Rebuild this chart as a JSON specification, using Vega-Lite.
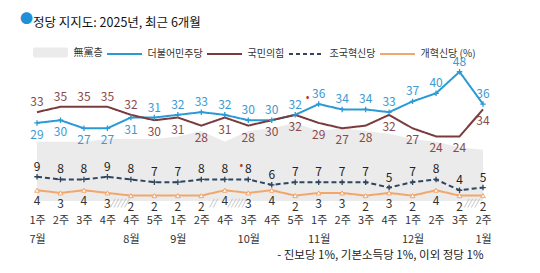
{
  "$schema": "https://vega.github.io/schema/vega-lite/v6.json",
  "width": 446,
  "height": 140,
  "autosize": {"type": "none"},
  "padding": {"left": 37, "top": 61, "right": 57, "bottom": 72},
  "background": "white",
  "config": {"view": {"stroke": null}, "font": "Noto Sans CJK KR"},
  "title": {"text": "●", "color": "#1f8fd8", "fontSize": 13, "anchor": "start", "frame": "group", "dx": -17, "offset": -9, "fontWeight": "normal"},
  "data": {"values": [
    {"key": "7월 1주", "無黨층": 22, "더불어민주당": 29, "국민의힘": 33, "조국혁신당": 9, "개혁신당": 4},
    {"key": "7월 2주", "無黨층": 22, "더불어민주당": 30, "국민의힘": 35, "조국혁신당": 8, "개혁신당": 3},
    {"key": "7월 3주", "無黨층": 22, "더불어민주당": 27, "국민의힘": 35, "조국혁신당": 8, "개혁신당": 4},
    {"key": "7월 4주", "無黨층": 23, "더불어민주당": 27, "국민의힘": 35, "조국혁신당": 9, "개혁신당": 3, "hatch": "/////"},
    {"key": "8월 4주", "無黨층": 23, "더불어민주당": 31, "국민의힘": 32, "조국혁신당": 8, "개혁신당": 2},
    {"key": "8월 5주", "無黨층": 23, "더불어민주당": 31, "국민의힘": 30, "조국혁신당": 7, "개혁신당": 2},
    {"key": "9월 1주", "無黨층": 24, "더불어민주당": 32, "국민의힘": 31, "조국혁신당": 7, "개혁신당": 2},
    {"key": "9월 2주", "無黨층": 26, "더불어민주당": 33, "국민의힘": 28, "조국혁신당": 8, "개혁신당": 2, "hatch": "//"},
    {"key": "9월 4주", "無黨층": 22, "더불어민주당": 32, "국민의힘": 31, "조국혁신당": 8, "개혁신당": 4, "hatch": "/////"},
    {"key": "10월 3주", "無黨층": 26, "더불어민주당": 30, "국민의힘": 28, "조국혁신당": 8, "개혁신당": 3, "note2": "•"},
    {"key": "10월 4주", "無黨층": 27, "더불어민주당": 30, "국민의힘": 30, "조국혁신당": 6, "개혁신당": 4},
    {"key": "10월 5주", "無黨층": 29, "더불어민주당": 32, "국민의힘": 32, "조국혁신당": 7, "개혁신당": 2},
    {"key": "11월 1주", "無黨층": 26, "더불어민주당": 36, "국민의힘": 29, "조국혁신당": 7, "개혁신당": 3, "note1": "•"},
    {"key": "11월 2주", "無黨층": 27, "더불어민주당": 34, "국민의힘": 27, "조국혁신당": 7, "개혁신당": 3},
    {"key": "11월 3주", "無黨층": 26, "더불어민주당": 34, "국민의힘": 28, "조국혁신당": 7, "개혁신당": 2},
    {"key": "11월 4주", "無黨층": 25, "더불어민주당": 33, "국민의힘": 32, "조국혁신당": 5, "개혁신당": 3},
    {"key": "12월 1주", "無黨층": 23, "더불어민주당": 37, "국민의힘": 27, "조국혁신당": 7, "개혁신당": 2},
    {"key": "12월 2주", "無黨층": 22, "더불어민주당": 40, "국민의힘": 24, "조국혁신당": 8, "개혁신당": 4},
    {"key": "12월 3주", "無黨층": 20, "더불어민주당": 48, "국민의힘": 24, "조국혁신당": 4, "개혁신당": 2, "hatch": "////"},
    {"key": "1월 2주", "無黨층": 19, "더불어민주당": 36, "국민의힘": 34, "조국혁신당": 5, "개혁신당": 2}
  ]},
  "transform": [{"fold": ["無黨층", "더불어민주당", "국민의힘", "조국혁신당", "개혁신당"], "as": ["party", "v"]}],
  "encoding": {
    "x": {
      "field": "key", "type": "ordinal", "sort": null,
      "scale": {"type": "point", "padding": 0},
      "axis": {
        "domain": false, "ticks": false, "grid": false,
        "labelAngle": 0, "labelFontSize": 11, "labelColor": "#333", "labelPadding": 13, "labelLineHeight": 19,
        "labelExpr": "[split(datum.label, ' ')[1], (datum.label == '7월 1주' || datum.label == '8월 4주' || datum.label == '9월 1주' || datum.label == '10월 3주' || datum.label == '11월 1주' || datum.label == '12월 1주' || datum.label == '1월 2주') ? split(datum.label, ' ')[0] : '']",
        "title": "- 진보당 1%, 기본소득당 1%, 이외 정당 1%",
        "titleAnchor": "end", "titleAlign": "right", "titleFontSize": 11.5, "titleFontWeight": "normal", "titleColor": "#222", "titlePadding": 5
      }
    },
    "y": {"field": "v", "type": "quantitative", "scale": {"domain": [0, 52]}, "axis": null}
  },
  "layer": [
    {
      "transform": [{"filter": "datum.party == '無黨층'"}],
      "mark": {"type": "area"},
      "encoding": {
        "color": {
          "field": "party", "type": "nominal",
          "scale": {"domain": ["無黨층", "더불어민주당", "국민의힘", "조국혁신당", "개혁신당"], "range": ["#ebebeb", "#2a9ad6", "#7b3b3d", "#2f4660", "#f3a66a"]},
          "legend": {
            "orient": "none", "legendX": -4, "legendY": -44, "direction": "horizontal", "padding": 0,
            "title": "정당 지지도: 2025년, 최근 6개월", "titleFontSize": 12.5, "titleFontWeight": "normal", "titleColor": "#111", "titlePadding": 17,
            "symbolType": "M-3.5,0H3.5", "symbolSize": 100, "symbolStrokeWidth": 2, "symbolOffset": 11.5,
            "labelFontSize": 10, "labelColor": "#333", "labelOffset": 17, "columnPadding": 0,
            "labelExpr": "datum.label == '개혁신당' ? '개혁신당 (%)' : datum.label",
            "encode": {"symbols": {"update": {
              "shape": {"signal": "datum.value == '無黨층' ? 'M-3.3,-0.8H3.3V0.8H-3.3Z' : 'M-3.5,0H3.5'"},
              "fill": {"signal": "datum.value == '無黨층' ? '#e6e6e6' : 'transparent'"},
              "stroke": {"signal": "datum.value == '無黨층' ? 'transparent' : scale('color', datum.value)"},
              "strokeDash": {"signal": "datum.value == '조국혁신당' ? [4, 3] : [1, 0]"}
            }}}
          }
        }
      }
    },
    {
      "transform": [{"filter": "datum.party != '無黨층'"}],
      "mark": {"type": "line", "strokeWidth": 2},
      "encoding": {
        "color": {
          "field": "party", "type": "nominal",
          "scale": {"domain": ["無黨층", "더불어민주당", "국민의힘", "조국혁신당", "개혁신당"], "range": ["#ebebeb", "#2a9ad6", "#7b3b3d", "#2f4660", "#f3a66a"]},
          "legend": {
            "orient": "none", "legendX": -4, "legendY": -44, "direction": "horizontal", "padding": 0,
            "title": "정당 지지도: 2025년, 최근 6개월", "titleFontSize": 12.5, "titleFontWeight": "normal", "titleColor": "#111", "titlePadding": 17,
            "symbolType": "M-3.5,0H3.5", "symbolSize": 100, "symbolStrokeWidth": 2, "symbolOffset": 11.5,
            "labelFontSize": 10, "labelColor": "#333", "labelOffset": 17, "columnPadding": 0,
            "labelExpr": "datum.label == '개혁신당' ? '개혁신당 (%)' : datum.label",
            "encode": {"symbols": {"update": {
              "shape": {"signal": "datum.value == '無黨층' ? 'M-3.3,-0.8H3.3V0.8H-3.3Z' : 'M-3.5,0H3.5'"},
              "fill": {"signal": "datum.value == '無黨층' ? '#e6e6e6' : 'transparent'"},
              "stroke": {"signal": "datum.value == '無黨층' ? 'transparent' : scale('color', datum.value)"},
              "strokeDash": {"signal": "datum.value == '조국혁신당' ? [4, 3] : [1, 0]"}
            }}}
          }
        },
        "strokeDash": {
          "field": "party", "type": "nominal",
          "scale": {"domain": ["더불어민주당", "국민의힘", "조국혁신당", "개혁신당"], "range": [[1, 0], [1, 0], [5, 3], [1, 0]]},
          "legend": null
        }
      }
    },
    {
      "transform": [{"filter": "datum.party == '더불어민주당'"}],
      "mark": {"type": "point", "shape": "M-1,0H1M0,-1V1", "size": 30, "filled": false, "stroke": "#2a9ad6", "strokeWidth": 1.3, "opacity": 1}
    },
    {
      "transform": [{"filter": "datum.party == '조국혁신당'"}],
      "mark": {"type": "point", "shape": "M-1,0H1M0,-1V1", "size": 30, "filled": false, "stroke": "#2f4660", "strokeWidth": 1.3, "opacity": 1}
    },
    {
      "transform": [{"filter": "datum.party == '개혁신당'"}],
      "mark": {"type": "point", "shape": "triangle-up", "size": 22, "filled": true, "fill": "white", "stroke": "#f3a66a", "strokeWidth": 1, "opacity": 1}
    },
    {
      "transform": [{"filter": "datum.party == '더불어민주당' && datum['더불어민주당'] >= datum['국민의힘']"}],
      "mark": {"type": "text", "fontSize": 12, "dy": -10, "color": "#3d9ad1"},
      "encoding": {"text": {"field": "v", "type": "quantitative"}}
    },
    {
      "transform": [{"filter": "datum.party == '더불어민주당' && datum['더불어민주당'] < datum['국민의힘']"}],
      "mark": {"type": "text", "fontSize": 12, "dy": 12, "color": "#3d9ad1"},
      "encoding": {"text": {"field": "v", "type": "quantitative"}}
    },
    {
      "transform": [{"filter": "datum.party == '국민의힘' && datum['국민의힘'] > datum['더불어민주당']"}],
      "mark": {"type": "text", "fontSize": 12, "dy": -10, "color": "#8a4a4a"},
      "encoding": {"text": {"field": "v", "type": "quantitative"}}
    },
    {
      "transform": [{"filter": "datum.party == '국민의힘' && datum['국민의힘'] <= datum['더불어민주당']"}],
      "mark": {"type": "text", "fontSize": 12, "dy": 12, "color": "#8a4a4a"},
      "encoding": {"text": {"field": "v", "type": "quantitative"}}
    },
    {
      "transform": [{"filter": "datum.party == '조국혁신당'"}],
      "mark": {"type": "text", "fontSize": 12, "dy": -10, "color": "#222"},
      "encoding": {"text": {"field": "v", "type": "quantitative"}}
    },
    {
      "transform": [{"filter": "datum.party == '개혁신당'"}],
      "mark": {"type": "text", "fontSize": 12, "dy": 11, "color": "#333"},
      "encoding": {"text": {"field": "v", "type": "quantitative"}}
    },
    {
      "transform": [{"filter": "datum.party == '개혁신당' && isValid(datum.hatch)"}],
      "mark": {"type": "text", "fontSize": 9, "dx": 11.7, "dy": 2, "color": "#aaa", "fontStyle": "italic"},
      "encoding": {"y": {"datum": 0}, "text": {"field": "hatch"}}
    },
    {
      "transform": [{"filter": "datum.party == '더불어민주당' && isValid(datum.note1)"}],
      "mark": {"type": "text", "fontSize": 11, "dx": -11, "dy": -6, "color": "#c0392b"},
      "encoding": {"text": {"field": "note1"}}
    },
    {
      "transform": [{"filter": "datum.party == '조국혁신당' && isValid(datum.note2)"}],
      "mark": {"type": "text", "fontSize": 11, "dx": -7, "dy": -13, "color": "#c0392b"},
      "encoding": {"text": {"field": "note2"}}
    }
  ]
}
